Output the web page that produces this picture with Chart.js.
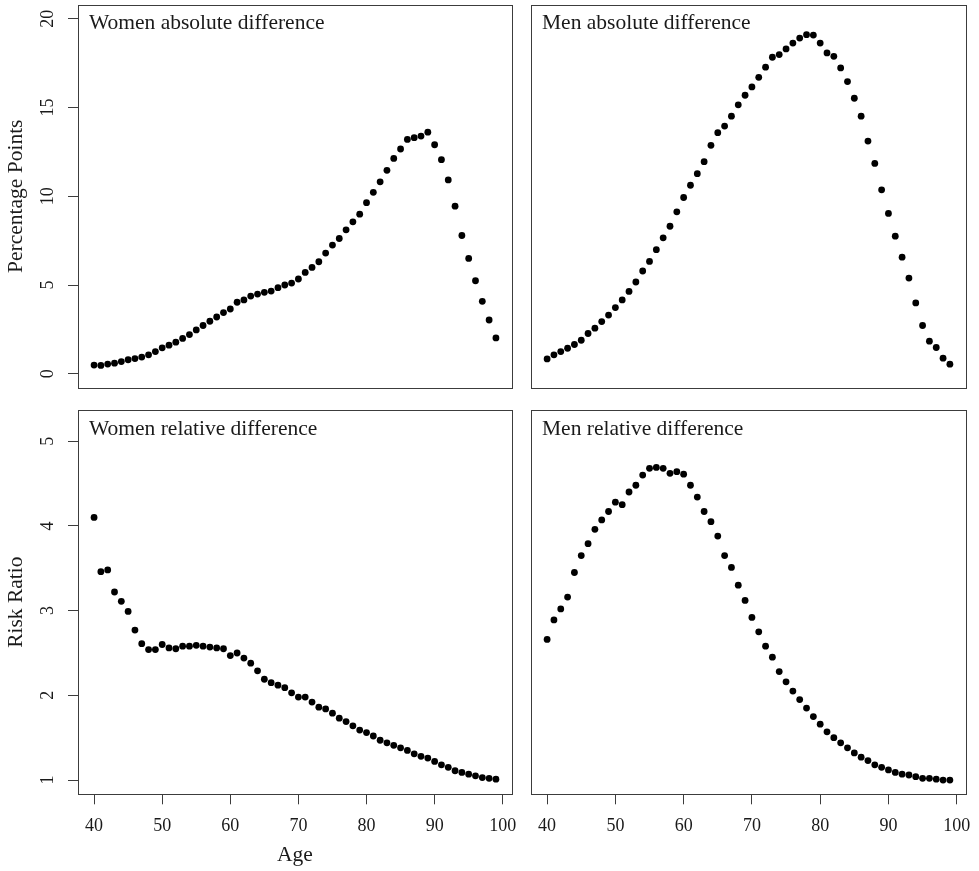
<!DOCTYPE html>
<html>
<head>
<meta charset="utf-8">
<script src="https://cdn.jsdelivr.net/npm/chart.js@4.4.1/dist/chart.umd.min.js"></script>
<style>
  html, body { margin: 0; padding: 0; background: #fff; }
  body { width: 979px; height: 871px; position: relative; overflow: hidden; }
  canvas { position: absolute; }
</style>
</head>
<body>
<canvas id="c-wabs" width="520" height="400" style="left:0;top:0"></canvas>
<canvas id="c-mabs" width="459" height="400" style="left:520px;top:0"></canvas>
<canvas id="c-wrel" width="520" height="471" style="left:0;top:400px"></canvas>
<canvas id="c-mrel" width="459" height="471" style="left:520px;top:400px"></canvas>
<script>
const ages = [40, 41, 42, 43, 44, 45, 46, 47, 48, 49, 50, 51, 52, 53, 54, 55, 56, 57, 58, 59,
  60, 61, 62, 63, 64, 65, 66, 67, 68, 69, 70, 71, 72, 73, 74, 75, 76, 77, 78, 79,
  80, 81, 82, 83, 84, 85, 86, 87, 88, 89, 90, 91, 92, 93, 94, 95, 96, 97, 98, 99];

const womenAbs = [0.49, 0.47, 0.55, 0.60, 0.69, 0.79, 0.86, 0.94, 1.07, 1.25, 1.46, 1.61, 1.78, 1.99, 2.21,
  2.47, 2.72, 2.96, 3.20, 3.45, 3.65, 4.03, 4.16, 4.38, 4.49, 4.59, 4.66, 4.85, 5.00, 5.11,
  5.34, 5.71, 5.99, 6.31, 6.80, 7.25, 7.62, 8.11, 8.56, 8.99, 9.64, 10.22, 10.81, 11.46, 12.13,
  12.66, 13.20, 13.30, 13.39, 13.61, 12.90, 12.06, 10.92, 9.44, 7.79, 6.50, 5.24, 4.08, 3.03, 2.02];

const menAbs = [0.84, 1.07, 1.25, 1.44, 1.65, 1.89, 2.27, 2.57, 2.94, 3.31, 3.73, 4.16, 4.64, 5.17, 5.79,
  6.33, 6.99, 7.66, 8.31, 9.12, 9.93, 10.62, 11.27, 11.95, 12.87, 13.58, 13.95, 14.51, 15.15, 15.69,
  16.16, 16.70, 17.27, 17.83, 17.98, 18.30, 18.63, 18.91, 19.10, 19.08, 18.63, 18.07, 17.88, 17.23, 16.46,
  15.52, 14.51, 13.11, 11.85, 10.36, 9.03, 7.75, 6.57, 5.39, 3.99, 2.72, 1.84, 1.48, 0.88, 0.54];

const womenRel = [4.10, 3.46, 3.48, 3.22, 3.11, 2.99, 2.77, 2.61, 2.54, 2.54, 2.60, 2.56, 2.55, 2.58, 2.58,
  2.59, 2.58, 2.57, 2.56, 2.55, 2.47, 2.50, 2.44, 2.38, 2.29, 2.19, 2.15, 2.12, 2.09, 2.03,
  1.98, 1.98, 1.92, 1.86, 1.84, 1.79, 1.73, 1.69, 1.64, 1.59, 1.56, 1.52, 1.47, 1.44, 1.41,
  1.38, 1.35, 1.31, 1.28, 1.26, 1.22, 1.18, 1.15, 1.11, 1.09, 1.07, 1.05, 1.03, 1.02, 1.01];

const menRel = [2.66, 2.89, 3.02, 3.16, 3.45, 3.65, 3.79, 3.96, 4.07, 4.17, 4.28, 4.25, 4.40, 4.48, 4.60,
  4.68, 4.69, 4.68, 4.62, 4.64, 4.61, 4.48, 4.34, 4.17, 4.05, 3.88, 3.65, 3.51, 3.30, 3.12,
  2.92, 2.75, 2.58, 2.45, 2.28, 2.16, 2.05, 1.95, 1.85, 1.75, 1.66, 1.57, 1.50, 1.44, 1.38,
  1.32, 1.27, 1.23, 1.18, 1.15, 1.12, 1.09, 1.07, 1.06, 1.04, 1.02, 1.02, 1.01, 1.00, 1.00];

const ageTicks = [40, 50, 60, 70, 80, 90, 100];
const absTicks = [0, 5, 10, 15, 20];
const relTicks = [1, 2, 3, 4, 5];

const FONT = '"Liberation Serif", "Times New Roman", serif';
const INK = '#1a1a1a';
const FRAME = '#3c3c3c';

// R-style axis range: limits stretched by 4% on each side
function rRange(lo, hi) {
  const d = (hi - lo) * 0.04;
  return { min: lo - d, max: hi + d };
}
const xr = rRange(ages[0], ages[ages.length - 1]);

// frame, panel title and the axis texts
const panelPlugin = {
  id: 'panel',
  afterDraw(chart, args, o) {
    const { ctx, chartArea: a, scales } = chart;
    ctx.save();
    ctx.strokeStyle = FRAME;
    ctx.lineWidth = 1;
    const l = Math.round(a.left) + 0.5, t = Math.round(a.top) + 0.5;
    const r = Math.round(a.right) + 0.5, b = Math.round(a.bottom) + 0.5;
    ctx.strokeRect(l, t, r - l, b - t);

    ctx.fillStyle = INK;
    ctx.font = `21.5px ${FONT}`;
    ctx.textAlign = 'left';
    ctx.textBaseline = 'middle';
    ctx.fillText(o.title, a.left + 11, a.top + 19);

    if (o.yTicks) {
      ctx.textAlign = 'center';
      ctx.font = `18px ${FONT}`;
      o.yTicks.forEach(v => {
        ctx.save();
        ctx.translate(a.left - 30, scales.y.getPixelForValue(v));
        ctx.rotate(-Math.PI / 2);
        ctx.fillText(String(v), 0, 0);
        ctx.restore();
      });
      ctx.font = `21.5px ${FONT}`;
      ctx.save();
      ctx.translate(16.5, (a.top + a.bottom) / 2);
      ctx.rotate(-Math.PI / 2);
      ctx.fillText(o.yTitle, 0, 0);
      ctx.restore();
    }
    if (o.xTicks) {
      ctx.textAlign = 'center';
      ctx.font = `18px ${FONT}`;
      o.xTicks.forEach(v => {
        ctx.fillText(String(v), scales.x.getPixelForValue(v), a.bottom + 32);
      });
      if (o.xTitle) {
        ctx.font = `21.5px ${FONT}`;
        ctx.fillText(o.xTitle, (a.left + a.right) / 2, a.bottom + 61);
      }
    }
    ctx.restore();
  }
};

function tickAxis(ticks, range, size, horizontal) {
  return {
    min: range.min,
    max: range.max,
    display: size > 0,
    afterBuildTicks: s => { s.ticks = ticks.map(v => ({ value: v })); },
    afterFit: s => { if (horizontal) s.height = size; else s.width = size; },
    ticks: { display: false },
    border: { display: false },
    grid: { drawOnChartArea: false, drawTicks: true, tickLength: 10, color: FRAME, lineWidth: 1 }
  };
}

function makePanel(id, values, cfg) {
  new Chart(document.getElementById(id), {
    type: 'scatter',
    data: {
      datasets: [{
        data: ages.map((x, i) => ({ x, y: values[i] })),
        backgroundColor: '#000',
        borderWidth: 0,
        pointRadius: 3.4,
        pointHoverRadius: 3.4
      }]
    },
    options: {
      responsive: false,
      animation: false,
      events: [],
      layout: { padding: cfg.padding },
      plugins: {
        legend: { display: false },
        tooltip: { enabled: false },
        panel: cfg.text
      },
      scales: {
        x: tickAxis(ageTicks, xr, cfg.xSize, true),
        y: tickAxis(cfg.yTicks, cfg.yRange, cfg.ySize, false)
      }
    },
    plugins: [panelPlugin]
  });
}

const absRange = rRange(0, 20);
const relRange = rRange(1, 5.2);

makePanel('c-wabs', womenAbs, {
  padding: { left: 0, top: 4.5, right: 8, bottom: 12 },
  xSize: 0, ySize: 78, yTicks: absTicks, yRange: absRange,
  text: { title: 'Women absolute difference', yTicks: absTicks, yTitle: 'Percentage Points' }
});
makePanel('c-mabs', menAbs, {
  padding: { left: 11, top: 4.5, right: 13, bottom: 12 },
  xSize: 0, ySize: 0, yTicks: absTicks, yRange: absRange,
  text: { title: 'Men absolute difference' }
});
makePanel('c-wrel', womenRel, {
  padding: { left: 0, top: 10, right: 8, bottom: 0 },
  xSize: 76.7, ySize: 78, yTicks: relTicks, yRange: relRange,
  text: { title: 'Women relative difference', yTicks: relTicks, yTitle: 'Risk Ratio', xTicks: ageTicks, xTitle: 'Age' }
});
makePanel('c-mrel', menRel, {
  padding: { left: 11, top: 10, right: 13, bottom: 0 },
  xSize: 76.7, ySize: 0, yTicks: relTicks, yRange: relRange,
  text: { title: 'Men relative difference', xTicks: ageTicks }
});
</script>
</body>
</html>
